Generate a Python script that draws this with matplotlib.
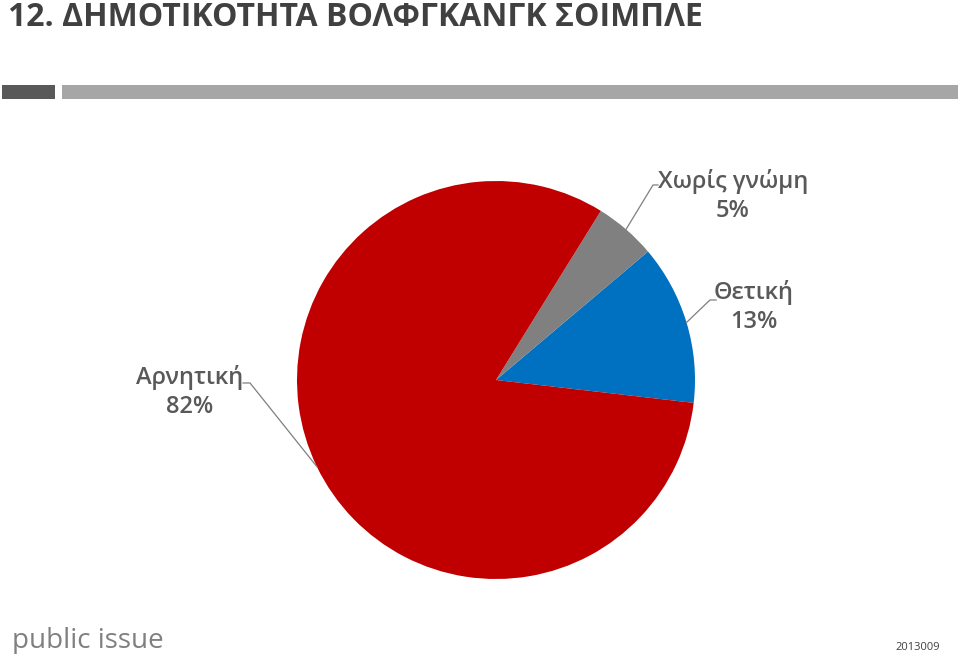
import numpy as np
import matplotlib
matplotlib.use("Agg")
import matplotlib.pyplot as plt

plt.rcParams['font.family'] = ['Open Sans', 'DejaVu Sans']

title = "12. ΔΗΜΟΤΙΚΟΤΗΤΑ ΒΟΛΦΓΚΑΝΓΚ ΣΟΙΜΠΛΕ"
categories = ["Θετική", "Χωρίς γνώμη", "Αρνητική"]
values = [13, 5, 82]
colors = ["#0070C0", "#808080", "#C00000"]
start_angle = -6.6

W, H = 960, 654
fig = plt.figure(figsize=(W / 100, H / 100), dpi=100)
fig.patch.set_facecolor("white")

def px(x0, y0, w, h):
    return [x0 / W, 1 - (y0 + h) / H, w / W, h / H]

# header
fig.text(8 / W, 1 - 26 / H, title, fontsize=23, fontweight="bold",
         color="#404040", ha="left", va="baseline")
bar1 = fig.add_axes(px(2, 85, 53, 14)); bar1.set_facecolor("#595959")
bar2 = fig.add_axes(px(62, 85, 896, 14)); bar2.set_facecolor("#A6A6A6")
for b in (bar1, bar2):
    b.set_xticks([]); b.set_yticks([])
    for s in b.spines.values():
        s.set_visible(False)

# pie
ax = fig.add_axes(px(297, 181, 398, 398))
wedges, _ = ax.pie(values, colors=colors, startangle=start_angle,
                   counterclock=True, radius=1,
                   wedgeprops=dict(edgecolor="none"))
ax.set_xlim(-1, 1); ax.set_ylim(-1, 1)
ax.set_aspect("equal")
ax.axis("off")

# label layout (elbow point, line end, text center)
layout = {
    "Θετική": ((1.075, 0.402), (1.106, 0.402), (1.295, 0.367)),
    "Χωρίς γνώμη": ((0.789, 0.980), (0.814, 0.980), (1.19, 0.925)),
    "Αρνητική": ((-1.236, -0.015), (-1.271, -0.015), (-1.538, -0.06)),
}
for w, cat, v in zip(wedges, categories, values):
    mid = np.deg2rad((w.theta1 + w.theta2) / 2)
    ex, ey = np.cos(mid), np.sin(mid)
    (bx, by), (cx, cy), (tx, ty) = layout[cat]
    ax.plot([ex, bx, cx], [ey, by, cy], color="#7F7F7F", lw=0.9,
            clip_on=False)
    ax.text(tx, ty, f"{cat}\n{v}%", ha="center", va="center",
            fontsize=17, fontweight="semibold", color="#595959",
            linespacing=1.3, clip_on=False)

# footer
fig.text(12 / W, 1 - 648 / H, "public issue", fontsize=20, color="#808080",
         ha="left", va="baseline")
fig.text(940 / W, 1 - 650 / H, "2013009", fontsize=8, color="#404040",
         ha="right", va="baseline")

fig.savefig("out.png", dpi=100, facecolor="white")
